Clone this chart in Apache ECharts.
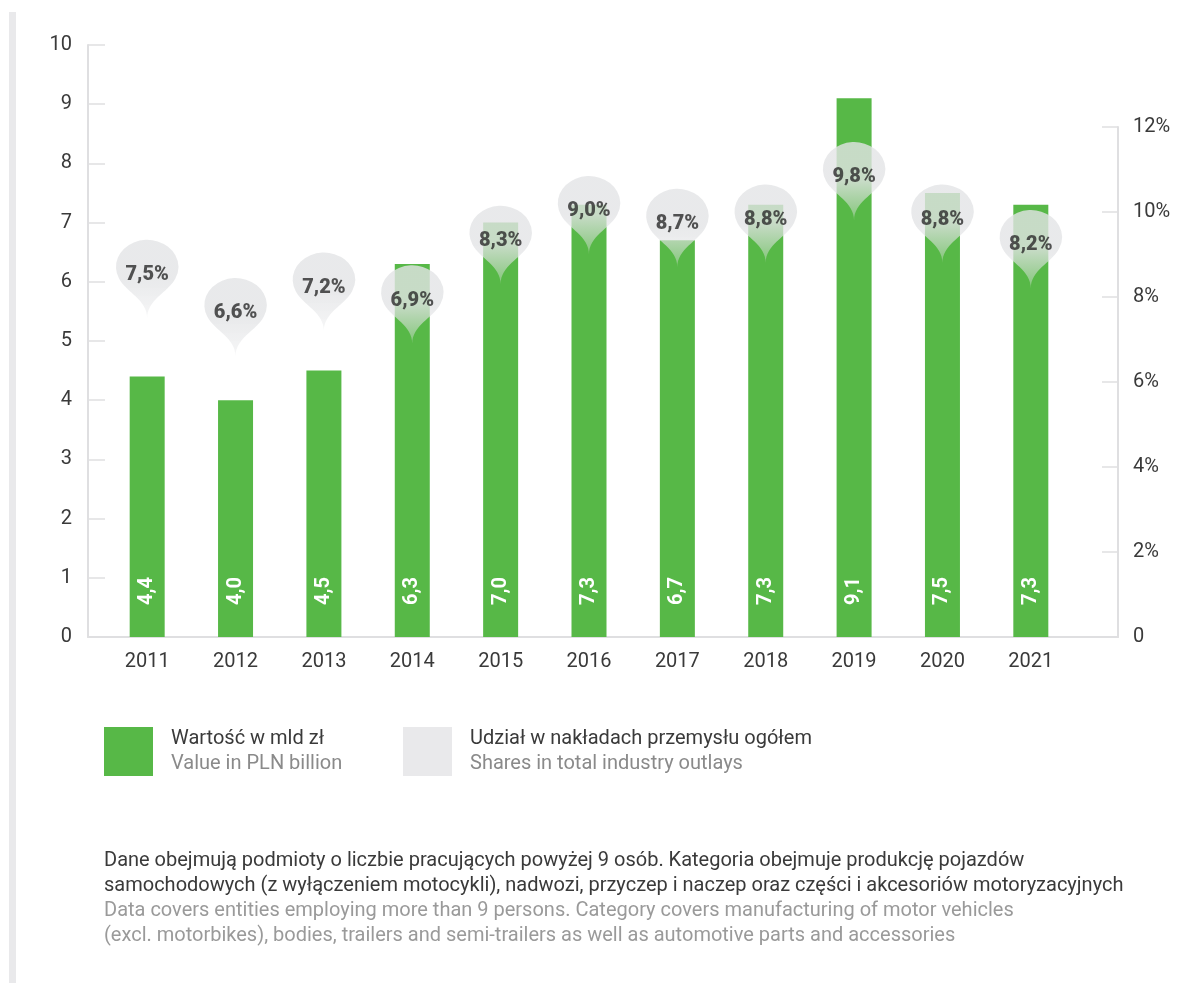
<!DOCTYPE html>
<html>
<head>
<meta charset="utf-8">
<script src="https://cdn.jsdelivr.net/npm/echarts@6/dist/echarts.min.js"></script>
<style>
  html, body { margin: 0; padding: 0; background: #fff; }
  #wrap { position: relative; width: 1180px; height: 983px; }
  #bar { position: absolute; left: 9px; top: 12px; width: 7px; height: 971px; background: #e9e9eb; }
  #chart { position: absolute; left: 0; top: 0; width: 1180px; height: 983px; }
</style>
</head>
<body>
<div id="wrap"><div id="bar"></div><div id="chart"></div></div>
<script>
const years = ['2011','2012','2013','2014','2015','2016','2017','2018','2019','2020','2021'];
const valuePLN = [4.4, 4.0, 4.5, 6.3, 7.0, 7.3, 6.7, 7.3, 9.1, 7.5, 7.3];
const sharePct = [7.5, 6.6, 7.2, 6.9, 8.3, 9.0, 8.7, 8.8, 9.8, 8.8, 8.2];
const seriesNames = ['Wartość w mld zł', 'Udział w nakładach przemysłu ogółem'];
const seriesNamesEn = ['Value in PLN billion', 'Shares in total industry outlays'];
const footPL = 'Dane obejmują podmioty o liczbie pracujących powyżej 9 osób. Kategoria obejmuje produkcję pojazdów\nsamochodowych (z wyłączeniem motocykli), nadwozi, przyczep i naczep oraz części i akcesoriów motoryzacyjnych';
const footEN = 'Data covers entities employing more than 9 persons. Category covers manufacturing of motor vehicles\n(excl. motorbikes), bodies, trailers and semi-trailers as well as automotive parts and accessories';

const FONT = 'Roboto, "Noto Sans", sans-serif';
const GREEN = '#57b847';
const GRAY = '#e3e4e6';
const AXIS = '#dfdfe1';
const fmt = v => v.toFixed(1).replace('.', ',');

const chart = echarts.init(document.getElementById('chart'), null, { renderer: 'canvas' });

function legendFor(i, left) {
  return {
    left: left, top: 727, padding: 0,
    icon: 'rect', itemWidth: 49, itemHeight: 49,
    selectedMode: false,
    data: [{ name: seriesNames[i], itemStyle: { color: i === 0 ? GREEN : GRAY } }],
    formatter: n => '{a|' + n + '}\n{b|' + seriesNamesEn[i] + '}',
    textStyle: {
      rich: {
        a: { fontFamily: FONT, fontSize: 20, color: '#3a3a3a', lineHeight: 25, padding: [0, 0, 0, 13] },
        b: { fontFamily: FONT, fontSize: 20, color: '#8a8a8a', lineHeight: 25, padding: [0, 0, 0, 13] }
      }
    }
  };
}

const option = {
  animation: false,
  grid: [
    { left: 103, right: 105, top: 45, bottom: 346 },
    { left: 103, right: 105, top: 127, bottom: 346 },
    { left: 88, right: 62, top: 45, bottom: 346 }
  ],
  legend: [legendFor(0, 104), legendFor(1, 403)],
  xAxis: [
    {
      type: 'category', gridIndex: 0, data: years,
      axisLine: { show: false }, axisTick: { show: false },
      axisLabel: { margin: 15, fontFamily: FONT, fontSize: 20, color: '#3a3a3a' }
    },
    { type: 'category', gridIndex: 1, data: years, show: false },
    {
      type: 'value', gridIndex: 2, min: 0, max: 1,
      axisLine: { show: true, lineStyle: { color: AXIS, width: 2 } },
      axisTick: { show: false }, axisLabel: { show: false }, splitLine: { show: false }
    }
  ],
  yAxis: [
    {
      type: 'value', gridIndex: 0, position: 'left', offset: 15,
      min: 0, max: 10, interval: 1,
      axisLine: { show: true, lineStyle: { color: AXIS, width: 2 } },
      axisTick: { show: true, inside: true, length: 17, lineStyle: { color: AXIS, width: 1.5 } },
      axisLabel: { margin: 16, fontFamily: FONT, fontSize: 20, color: '#3a3a3a' },
      splitLine: { show: false }
    },
    {
      type: 'value', gridIndex: 1, position: 'right', offset: 43,
      min: 0, max: 12, interval: 2,
      axisLine: { show: true, lineStyle: { color: AXIS, width: 2 } },
      axisTick: { show: true, inside: true, length: 16, lineStyle: { color: AXIS, width: 1.5 } },
      axisLabel: { margin: 15, fontFamily: FONT, fontSize: 20, color: '#3a3a3a',
        formatter: v => v === 0 ? '0' : v + '%' },
      splitLine: { show: false }
    },
    { type: 'value', gridIndex: 2, show: false, min: 0, max: 1 }
  ],
  series: [
    {
      name: seriesNames[0], type: 'bar', xAxisIndex: 0, yAxisIndex: 0,
      data: valuePLN, barWidth: 35, itemStyle: { color: GREEN }, z: 2,
      label: {
        show: true, position: 'insideBottom', distance: 32, rotate: 90,
        align: 'left', verticalAlign: 'middle',
        formatter: p => fmt(p.value),
        fontFamily: FONT, fontWeight: 'bold', fontSize: 20, color: '#ffffff'
      }
    },
    {
      name: seriesNames[1], type: 'scatter', xAxisIndex: 1, yAxisIndex: 1,
      data: sharePct, symbol: 'pin', symbolSize: [104, 90], z: 5,
      itemStyle: {
        color: new echarts.graphic.LinearGradient(0, 0, 0, 1, [
          { offset: 0, color: 'rgba(227,228,230,1)' },
          { offset: 0.5, color: 'rgba(227,228,230,1)' },
          { offset: 1, color: 'rgba(227,228,230,0.4)' }
        ])
      },
      label: {
        show: true, position: 'inside', offset: [0, 4],
        formatter: p => fmt(p.value) + '%',
        fontFamily: FONT, fontWeight: 900, fontSize: 20, color: '#2b2b2b'
      },
      emphasis: { disabled: true }
    }
  ],
  graphic: [
    { type: 'text', left: 104, top: 848,
      style: { text: footPL, fill: '#3a3a3a', fontFamily: FONT, fontSize: 20, lineHeight: 25 } },
    { type: 'text', left: 104, top: 898,
      style: { text: footEN, fill: '#9a9a9a', fontFamily: FONT, fontSize: 20, lineHeight: 25 } }
  ]
};
chart.setOption(option);
</script>
</body>
</html>
